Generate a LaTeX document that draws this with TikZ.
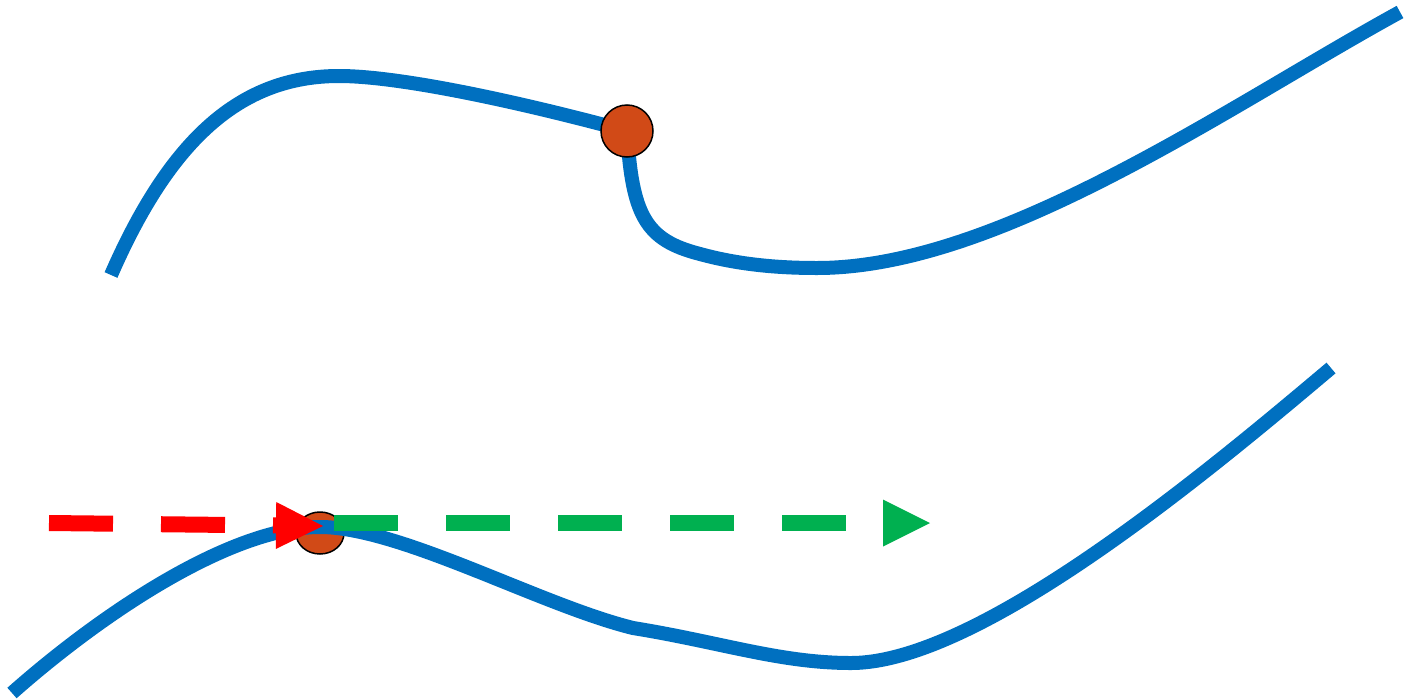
\documentclass[tikz,border=0pt]{standalone}
\usetikzlibrary{arrows.meta,shapes.geometric}
\definecolor{curveblue}{HTML}{0070C0}
\definecolor{dotorange}{HTML}{D14A17}
\definecolor{arrred}{HTML}{FF0000}
\definecolor{arrgreen}{HTML}{00B050}
\tikzset{
  curve/.style={draw=curveblue, line width=14pt},
  dot/.style={draw=black, fill=dotorange, line width=1.5pt, inner sep=0pt},
  dasharrow/.style={line width=16pt, dash pattern=on 64pt off 48pt,
    -{Triangle[length=47pt,width=47pt,line width=0pt]}},
}
\begin{document}
\begin{tikzpicture}[x=1pt,y=-1pt]
\useasboundingbox (0,0) rectangle (1404,699);
% top curve
\coordinate (t0) at (111,275);
\coordinate (t1) at (339,76);
\coordinate (t2) at (627,131);
\coordinate (t4) at (700,254);
\coordinate (t5) at (817,268);
\coordinate (t6) at (1400,12);
\draw[curve] (t0) .. controls (170,140) and (240,76) .. (t1)
  .. controls (400,76) and (520,102) .. (t2);
\draw[curve] (t2) .. controls (632,215) and (645,240) .. (t4)
  .. controls (740,265) and (780,268) .. (t5)
  .. controls (1000,268) and (1230,105) .. (t6);
\node[dot, circle, minimum size=52pt] (topdot) at (t2) {};
% bottom curve
\node[dot, ellipse, minimum width=48pt, minimum height=42pt] (botdot) at (320,533) {};
\coordinate (b0) at (12,693);
\coordinate (b1) at (320,527);
\coordinate (b2) at (633,628);
\coordinate (b3) at (851,663);
\coordinate (b5) at (1331,368);
\draw[curve] (b0) .. controls (100,615) and (230,527) .. (b1)
  .. controls (400,527) and (540,605) .. (b2)
  .. controls (720,642) and (780,663) .. (b3)
  .. controls (980,663) and (1210,470) .. (b5);
% arrows
\coordinate (rs) at (49,523);
\coordinate (re) at (323,526);
\coordinate (gs) at (334,523);
\coordinate (ge) at (930,523);
\draw[dasharrow, arrred] (rs) -- (re);
\draw[dasharrow, arrgreen] (gs) -- (ge);
\end{tikzpicture}
\end{document}
